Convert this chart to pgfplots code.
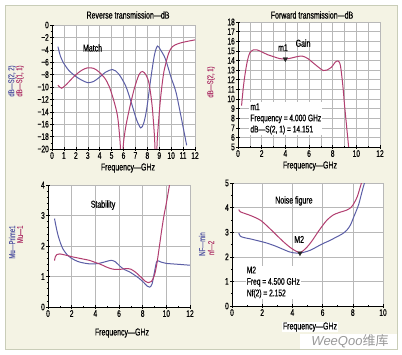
\documentclass[border=0pt]{standalone}
\usepackage{pgfplots}
\pgfplotsset{compat=1.18}
\usepackage{fontspec}
\setmainfont{Liberation Sans}[FakeStretch=0.7, FakeBold=0.6]
\newfontfamily\cjk{Noto Sans CJK SC}
\newfontfamily\wmfont{Liberation Sans}
\definecolor{bg}{HTML}{F4F3E4}
\definecolor{frm}{HTML}{C9CDB8}
\definecolor{cblue}{HTML}{5B5EA6}
\definecolor{cmag}{HTML}{B23E70}
\pgfplotsset{panel/.style={scale only axis, anchor=south west,
  axis lines=left, axis line style={-, black, line width=0.6pt},
  grid=major, major grid style={black!28, line width=0.5pt},
  tick style={black, line width=0.5pt}, tick align=center,
  major tick length=4pt, minor tick length=2.5pt,
  ticklabel style={font=\fontsize{9.5}{9.5}\selectfont, inner sep=1pt},
  /pgf/number format/assume math mode=true,
  axis background/.style={fill=white}},
  bl/.style={cblue, line width=1pt, smooth, tension=0.5, no marks},
  mg/.style={cmag, line width=1pt, smooth, tension=0.5, no marks}}
\begin{document}
\begin{tikzpicture}[x=1pt,y=1pt]
\fill[white] (0pt,0pt) rectangle (402pt,354pt);
\filldraw[fill=bg, draw=frm, line width=0.8pt] (5pt,5pt) rectangle (397pt,349pt);
% Top left
\begin{axis}[panel, at={(52pt,205pt)}, width=143pt, height=124pt,
  xmin=0, xmax=12, ymin=-20, ymax=0,
  xtick={0,...,12}, ytick={-20,-18,...,0},
  yticklabels={−20,−18,−16,−14,−12,−10,−8,−6,−4,−2,0},
  minor y tick num=1]
\addplot[bl] coordinates {(0.5,-3.5)(0.7,-5.0)(0.9,-5.9)(1.4,-7.3)(2,-8.3)(2.5,-8.9)(3,-9.3)(3.5,-9.1)(4,-8.4)(4.5,-7.6)(5.1,-7.2)(5.6,-7.9)(6.2,-9.9)(6.7,-12.8)(7.1,-15.3)(7.45,-16.6)(7.7,-15.8)(7.95,-13.5)(8.3,-8.5)(8.6,-4.8)(8.85,-3.4)(9.1,-4.0)(9.5,-5.4)(10,-8.5)(10.4,-10.8)(10.8,-14.5)(11.3,-19.4)};
\addplot[mg] coordinates {(0.5,-9.7)(0.8,-10.2)(1.2,-9.6)(1.9,-8.2)(2.5,-7.3)(3,-6.9)(3.5,-7.0)(3.9,-7.5)(4.4,-8.5)(4.8,-9.9)(5.2,-12.3)(5.5,-14.7)(5.7,-18.5)(5.85,-23)(6.0,-19)(6.2,-16.3)(6.5,-13.5)(6.9,-10.3)(7.3,-8.0)(7.6,-7.5)(7.9,-8.1)(8.15,-9.5)(8.4,-13)(8.6,-18)(8.72,-23)(8.85,-18)(9.1,-12)(9.35,-8)(9.55,-6.2)(9.8,-4.5)(10.1,-3.5)(10.6,-3.0)(11.2,-2.7)(12,-2.4)};
\node[font=\fontsize{10}{10}\selectfont] at (axis cs:3.4,-3.7) {Match};
\end{axis}
% Top right
\begin{axis}[panel, at={(238pt,207pt)}, width=142pt, height=125pt,
  xmin=0, xmax=12, ymin=5, ymax=18,
  xtick={0,2,...,12}, ytick={5,...,18},
  extra x ticks={1,3,...,11}, extra x tick labels={},
  extra x tick style={grid=major, major tick length=2.5pt}]
\addplot[mg] coordinates {(0.3,9.3)(0.45,11.2)(0.6,12.6)(0.8,14.0)(1.0,14.8)(1.3,15.1)(1.6,15.1)(2.0,14.9)(2.5,14.6)(3.0,14.4)(3.5,14.2)(4.0,14.15)(4.5,14.25)(5.0,14.4)(5.45,14.45)(5.9,14.2)(6.3,13.8)(6.8,13.3)(7.2,12.95)(7.5,13.0)(7.9,13.3)(8.2,13.8)(8.45,13.95)(8.65,13.5)(8.85,11.5)(9.0,9.4)(9.15,7.5)(9.35,5)};
\addplot[only marks, mark=triangle*, mark size=2.6pt, mark options={rotate=180, fill=black!85, draw=black!85}] coordinates {(4,14.151)};
\node[font=\fontsize{10}{10}\selectfont, anchor=south] at (axis cs:3.8,14.6) {m1};
\node[font=\fontsize{10}{10}\selectfont] at (axis cs:5.5,15.8) {Gain};
\node[font=\fontsize{9.5}{11.2}\selectfont, anchor=north west, align=left, fill=white, inner sep=1pt] at (axis cs:0.95,9.65) {m1\\Frequency = 4.000 GHz\\dB—S(2, 1) = 14.151};
\end{axis}
% Bottom left
\begin{axis}[panel, at={(48pt,47pt)}, width=142pt, height=122pt,
  xmin=0, xmax=12, ymin=0, ymax=4,
  xtick={0,2,...,12}, ytick={0,...,4}, minor x tick num=1, minor y tick num=4]
\addplot[bl] coordinates {(0.55,2.9)(0.7,2.6)(0.85,2.35)(1.05,2.1)(1.27,1.9)(1.6,1.72)(1.9,1.62)(2.3,1.53)(2.7,1.47)(3.2,1.43)(3.7,1.41)(4.3,1.43)(4.9,1.49)(5.35,1.53)(5.7,1.48)(6.1,1.33)(6.5,1.22)(6.9,1.15)(7.3,1.05)(7.7,0.94)(8.1,0.8)(8.4,0.68)(8.6,0.65)(8.8,0.76)(9.0,1.15)(9.2,1.5)(9.5,1.48)(10,1.43)(11,1.4)(12,1.37)};
\addplot[mg] coordinates {(0.55,1.52)(0.62,1.65)(0.75,1.72)(1.0,1.74)(1.5,1.7)(2.0,1.65)(2.5,1.61)(3.0,1.57)(3.5,1.53)(4.0,1.46)(4.5,1.39)(5.0,1.3)(5.5,1.24)(6.0,1.23)(6.6,1.26)(7.0,1.24)(7.4,1.14)(7.8,1.0)(8.2,0.85)(8.5,0.8)(8.75,0.84)(9.0,1.05)(9.2,1.42)(9.4,1.95)(9.6,2.5)(9.8,3.0)(10.0,3.4)(10.2,3.85)(10.35,4.2)};
\node[font=\fontsize{10}{10}\selectfont] at (axis cs:4.65,3.34) {Stability};
\end{axis}
% Bottom right
\begin{axis}[panel, at={(232pt,48pt)}, width=151pt, height=123pt,
  xmin=0, xmax=10, ymin=0, ymax=5,
  xtick={0,2,...,10}, ytick={0,...,5}, minor x tick num=1, minor y tick num=1]
\addplot[bl] coordinates {(0.45,2.97)(0.55,2.84)(0.8,2.78)(1.2,2.73)(1.8,2.64)(2.3,2.56)(2.9,2.43)(3.4,2.3)(3.8,2.2)(4.1,2.16)(4.5,2.15)(4.8,2.19)(5.2,2.27)(5.6,2.4)(6.0,2.53)(6.5,2.67)(6.9,2.8)(7.3,2.93)(7.6,3.08)(7.85,3.3)(8.05,3.6)(8.25,3.9)(8.4,4.15)(8.57,4.55)(8.7,4.85)(8.8,5.05)};
\addplot[mg] coordinates {(0.45,3.92)(0.55,3.83)(0.9,3.75)(1.3,3.66)(1.9,3.48)(2.5,3.15)(3.0,2.85)(3.5,2.56)(3.9,2.36)(4.3,2.21)(4.55,2.18)(4.95,2.38)(5.3,2.65)(5.65,2.97)(6.0,3.27)(6.3,3.5)(6.7,3.7)(7.1,3.8)(7.6,3.9)(7.9,4.02)(8.1,4.2)(8.3,4.45)(8.45,4.75)(8.6,5.05)};
\addplot[only marks, mark=triangle*, mark size=2.6pt, mark options={rotate=180, fill=black!85, draw=black!85}] coordinates {(4.5,2.152)};
\node[font=\fontsize{10}{10}\selectfont, anchor=south] at (axis cs:4.45,2.42) {M2};
\node[font=\fontsize{10}{10}\selectfont] at (axis cs:4.1,4.27) {Noise figure};
\node[font=\fontsize{9.5}{11.5}\selectfont, anchor=north west, align=left, fill=white, inner sep=1pt] at (axis cs:0.9,1.65) {M2\\Freq = 4.500 GHz\\Nf(2) = 2.152};
\end{axis}
% titles and labels
\begin{scope}[every node/.style={font=\fontsize{10}{10}\selectfont}]
\node at (128pt,339pt) {Reverse transmission—dB};
\node at (312pt,339pt) {Forward transmission—dB};
\node at (128pt,186pt) {Frequency—GHz};
\node at (310pt,188pt) {Frequency—GHz};
\node at (122pt,21pt) {Frequency—GHz};
\node[fill=white, inner sep=0.5pt] at (310pt,27pt) {Frequency—GHz};
\end{scope}
\begin{scope}[every node/.style={font=\fontsize{8.5}{8.5}\selectfont, rotate=90}]
\node[text=cblue] at (12pt,273pt) {dB—S(2, 2)};
\node[text=cmag] at (20pt,273pt) {dB—S(1, 1)};
\node[text=cmag] at (211pt,272pt) {dB—S(2, 1)};
\node[text=cblue, anchor=east] at (12pt,132pt) {Mu—Prime1};
\node[text=cmag, anchor=east] at (20pt,132pt) {Mu—1};
\node[text=cblue] at (202pt,110pt) {NF—min};
\node[text=cmag] at (211pt,106pt) {nf—2};
\end{scope}
\fill[white] (300pt,5.5pt) rectangle (396.5pt,20pt);
\node[font=\wmfont\fontsize{13}{13}\selectfont\itshape, text=black!40, inner sep=0pt] at (350pt,13pt) {WeeQoo{\cjk\upshape 维库}};
\end{tikzpicture}
\end{document}
